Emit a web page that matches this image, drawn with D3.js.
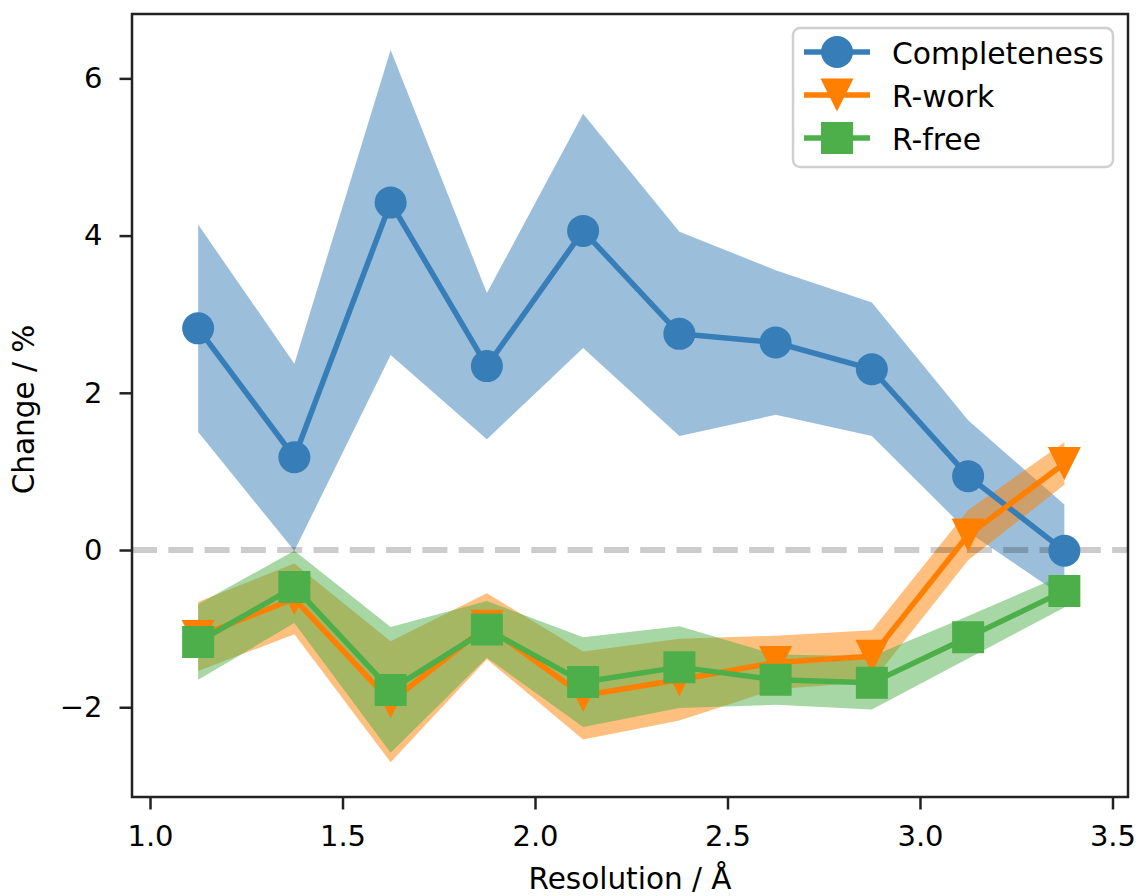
<!DOCTYPE html>
<html>
<head>
<meta charset="utf-8">
<script src="https://cdn.jsdelivr.net/npm/d3@7"></script>
<style>
  body { margin: 0; background: #fff; }
  svg { display: block; }
  text { font-family: "DejaVu Sans", sans-serif; fill: #000; }
</style>
</head>
<body>
<svg id="chart" width="1139" height="896"></svg>
<script>
// Resolution bins (Å) and per-bin mean change (%) with spread
const resolution = [1.125, 1.375, 1.625, 1.875, 2.125, 2.375, 2.625, 2.875, 3.125, 3.375];
const completeness = [2.82, 1.18, 4.42, 2.34, 4.06, 2.75, 2.64, 2.30, 0.94, -0.01];
const completenessSpread = [1.32, 1.19, 1.94, 0.93, 1.49, 1.30, 0.92, 0.85, 0.71, 0.59];
const rWork = [-1.10, -0.62, -1.93, -0.97, -1.85, -1.65, -1.43, -1.35, 0.19, 1.10];
const rWorkSpread = [0.44, 0.45, 0.77, 0.42, 0.56, 0.52, 0.34, 0.33, 0.32, 0.27];
const rFree = [-1.17, -0.47, -1.78, -1.01, -1.68, -1.49, -1.65, -1.69, -1.11, -0.52];
const rFreeSpread = [0.48, 0.46, 0.80, 0.36, 0.57, 0.52, 0.32, 0.34, 0.27, 0.21];

const xTicks = [1.0, 1.5, 2.0, 2.5, 3.0, 3.5];
const yTicks = [-2, 0, 2, 4, 6];
const seriesNames = ["Completeness", "R-work", "R-free"];
const seriesColors = ["#377eb8", "#ff7f00", "#4daf4a"];
const seriesMarkers = ["circle", "triangleDown", "square"];

const series = [
  { name: seriesNames[0], values: completeness, spread: completenessSpread, color: seriesColors[0], marker: seriesMarkers[0] },
  { name: seriesNames[1], values: rWork, spread: rWorkSpread, color: seriesColors[1], marker: seriesMarkers[1] },
  { name: seriesNames[2], values: rFree, spread: rFreeSpread, color: seriesColors[2], marker: seriesMarkers[2] }
];

const svg = d3.select("#chart");
const plot = { left: 132, right: 1128, top: 14, bottom: 797 };

const x = d3.scaleLinear().domain([0.9532, 3.5403]).range([plot.left, plot.right]);
const y = d3.scaleLinear().domain([-3.142, 6.819]).range([plot.bottom, plot.top]);

svg.append("defs").append("clipPath").attr("id", "plot-clip")
  .append("rect")
  .attr("x", plot.left).attr("y", plot.top)
  .attr("width", plot.right - plot.left).attr("height", plot.bottom - plot.top);

const body = svg.append("g").attr("clip-path", "url(#plot-clip)");

// Marker shapes
const MS = 32;
function markerPath(kind, s) {
  const h = s / 2;
  if (kind === "circle") {
    return `M${h},0 A${h},${h} 0 1,1 ${-h},0 A${h},${h} 0 1,1 ${h},0 Z`;
  }
  if (kind === "triangleDown") {
    const t = (s + 1) / 2;
    return `M${-t},${-t} L${t},${-t} L0,${t} Z`;
  }
  return `M${-h},${-h} H${h} V${h} H${-h} Z`;
}

// Shaded spread bands
const area = d3.area()
  .x(d => x(d.r))
  .y0(d => y(d.v - d.s))
  .y1(d => y(d.v + d.s));

series.forEach(s => {
  const pts = resolution.map((r, i) => ({ r, v: s.values[i], s: s.spread[i] }));
  body.append("path")
    .datum(pts)
    .attr("d", area)
    .attr("fill", s.color)
    .attr("fill-opacity", 0.5);
});

// Zero reference line
body.append("line")
  .attr("x1", plot.left).attr("x2", plot.right)
  .attr("y1", y(0)).attr("y2", y(0))
  .attr("stroke", "#000")
  .attr("stroke-opacity", 0.2)
  .attr("stroke-width", 6)
  .attr("stroke-dasharray", "25,11.3");

// Lines with markers
const line = d3.line().x(d => x(d.r)).y(d => y(d.v));

series.forEach(s => {
  const pts = resolution.map((r, i) => ({ r, v: s.values[i] }));
  const g = body.append("g");
  g.append("path")
    .datum(pts)
    .attr("d", line)
    .attr("fill", "none")
    .attr("stroke", s.color)
    .attr("stroke-width", 5.5)
    .attr("stroke-linejoin", "round");
  g.selectAll("path.marker")
    .data(pts)
    .join("path")
    .attr("class", "marker")
    .attr("transform", d => `translate(${x(d.r)},${y(d.v)})`)
    .attr("d", markerPath(s.marker, MS))
    .attr("fill", s.color);
});

// Axes
const xAxis = svg.append("g")
  .attr("transform", `translate(0,${plot.bottom})`)
  .call(d3.axisBottom(x).tickValues(xTicks).tickFormat(d3.format(".1f")).tickSize(12.5).tickPadding(16));
const yAxis = svg.append("g")
  .attr("transform", `translate(${plot.left},0)`)
  .call(d3.axisLeft(y).tickValues(yTicks).tickFormat(d3.format("d")).tickSize(12.5).tickPadding(17));

[xAxis, yAxis].forEach(a => {
  a.select(".domain").remove();
  a.selectAll(".tick line").attr("stroke", "#222").attr("stroke-width", 2.5);
  a.selectAll(".tick text").attr("font-size", 29).attr("fill", "#000");
});

// Frame
svg.append("rect")
  .attr("x", plot.left).attr("y", plot.top)
  .attr("width", plot.right - plot.left).attr("height", plot.bottom - plot.top)
  .attr("fill", "none")
  .attr("stroke", "#222")
  .attr("stroke-width", 2.5);

// Axis titles
svg.append("text")
  .attr("x", (plot.left + plot.right) / 2)
  .attr("y", 889)
  .attr("text-anchor", "middle")
  .attr("font-size", 29.5)
  .text("Resolution / Å");

svg.append("text")
  .attr("transform", `translate(34,${(plot.top + plot.bottom) / 2 + 4}) rotate(-90)`)
  .attr("text-anchor", "middle")
  .attr("font-size", 29.5)
  .text("Change / %");

// Legend
const legend = svg.append("g");
legend.append("rect")
  .attr("x", 793).attr("y", 28)
  .attr("width", 320).attr("height", 139)
  .attr("rx", 7).attr("ry", 7)
  .attr("fill", "#fff").attr("fill-opacity", 0.8)
  .attr("stroke", "#d0d0d0").attr("stroke-width", 2.5);

const rowY = [52, 95, 138];
series.forEach((s, i) => {
  const row = legend.append("g").attr("transform", `translate(0,${rowY[i]})`);
  row.append("line")
    .attr("x1", 804).attr("x2", 870)
    .attr("y1", 0).attr("y2", 0)
    .attr("stroke", s.color).attr("stroke-width", 5.5);
  row.append("path")
    .attr("transform", "translate(837,0)")
    .attr("d", markerPath(s.marker, MS))
    .attr("fill", s.color);
  row.append("text")
    .attr("x", 892).attr("y", 12)
    .attr("font-size", 29.8)
    .text(s.name);
});
</script>
</body>
</html>
